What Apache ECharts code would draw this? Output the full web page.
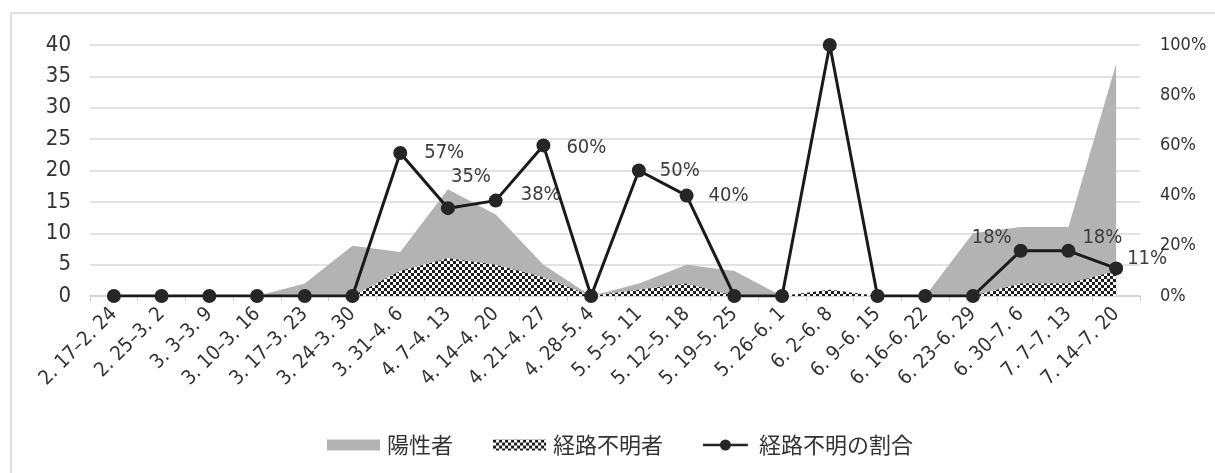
<!DOCTYPE html>
<html><head><meta charset="utf-8">
<script src="https://cdn.jsdelivr.net/npm/echarts@6/dist/echarts.min.js"></script>
<style>html,body{margin:0;padding:0;background:#fff}#c{width:1215px;height:473px}</style>
</head><body><div id="c"></div>
<script>
// ---- data ----
const categories = ['2. 17–2. 24','2. 25–3. 2','3. 3–3. 9','3. 10–3. 16','3. 17–3. 23','3. 24–3. 30','3. 31–4. 6','4. 7–4. 13','4. 14–4. 20','4. 21–4. 27','4. 28–5. 4','5. 5–5. 11','5. 12–5. 18','5. 19–5. 25','5. 26–6. 1','6. 2–6. 8','6. 9–6. 15','6. 16–6. 22','6. 23–6. 29','6. 30–7. 6','7. 7–7. 13','7. 14–7. 20'];
const positives    = [0,0,0,0,2,8,7,17,13,5,0,2,5,4,0,1,0,0,10,11,11,37];
const unknownCases = [0,0,0,0,0,0,4,6,5,3,0,1,2,0,0,1,0,0,0,2,2,4];
const unknownRatio = [0,0,0,0,0,0,57,35,38,60,0,50,40,0,0,100,0,0,0,18,18,11];
const leftTicks  = [0,5,10,15,20,25,30,35,40];
const rightTicks = [0,20,40,60,80,100];
const seriesNames = ['陽性者','経路不明者','経路不明の割合'];

// ---- styling ----
const narrow = "'Liberation Sans Narrow','DejaVu Sans Condensed','Roboto',sans-serif";
const cond = "'DejaVu Sans Condensed','Liberation Sans Narrow',sans-serif";
const cjk = "'Noto Sans CJK JP','Noto Sans',sans-serif";
const labelStyle = { // index -> [position, offset]
  6:['right',[12,0]], 7:['right',[-9,-31]], 8:['right',[13,-6]], 9:['right',[11,2]],
  11:['right',[9,0]], 12:['right',[10,0]], 19:['left',[3,-13]], 20:['right',[2,-13]], 21:['right',[-1,-10]]
};

const pc = document.createElement('canvas'); pc.width = 6; pc.height = 6;
const g = pc.getContext('2d');
g.fillStyle = '#ffffff'; g.fillRect(0,0,6,6);
g.fillStyle = '#1c1c1c'; g.fillRect(0,0,3,3); g.fillRect(3,3,3,3);
const checker = {image: pc, repeat: 'repeat'};

const ratioData = unknownRatio.map((v,i) => {
  const ls = labelStyle[i];
  return ls ? {value:v, label:{show:true, position:ls[0], offset:ls[1]}} : {value:v};
});

const lineIcon = 'path://M0,5h53v3h-53z M20,6.5a6.5,6.5 0 1,1 13,0a6.5,6.5 0 1,1 -13,0z';

const chart = echarts.init(document.getElementById('c'), null, {renderer:'canvas'});
chart.setOption({
  backgroundColor:'#fff',
  animation:false,
  graphic:[{type:'rect', shape:{x:11,y:13,width:1215,height:480}, style:{fill:'none', stroke:'#d6d6d6', lineWidth:1.5}, silent:true}],
  grid:{left:90, right:75, top:45, bottom:177, containLabel:false},
  legend:{
    left:322, top:429, itemWidth:53, itemHeight:11, itemGap:40,
    textStyle:{fontFamily:cjk, fontSize:22, color:'#333', padding:[0,0,0,2]},
    data:[
      {name:seriesNames[0], icon:'rect', itemStyle:{color:'#b3b3b3'}},
      {name:seriesNames[1], icon:'rect', itemStyle:{color:checker}},
      {name:seriesNames[2], icon:lineIcon, itemStyle:{color:'#262626'}}
    ]
  },
  xAxis:{
    type:'category', data:categories, boundaryGap:true,
    axisLine:{lineStyle:{color:'#cfcfcf', width:1.5}},
    axisTick:{show:true, length:5, lineStyle:{color:'#cfcfcf'}},
    axisLabel:{interval:0, rotate:45, margin:15, fontFamily:cond, fontSize:20, color:'#333'}
  },
  yAxis:[
    {type:'value', min:leftTicks[0], max:leftTicks[leftTicks.length-1], interval:leftTicks[1]-leftTicks[0],
     axisLine:{show:false}, axisTick:{show:false},
     splitLine:{lineStyle:{color:'#d9d9d9', width:1.5}},
     axisLabel:{margin:19, fontFamily:narrow, fontSize:22, color:'#333'}},
    {type:'value', min:rightTicks[0], max:rightTicks[rightTicks.length-1], interval:rightTicks[1]-rightTicks[0],
     position:'right', axisLine:{show:false}, axisTick:{show:false}, splitLine:{show:false},
     axisLabel:{margin:20, fontFamily:narrow, fontSize:18, color:'#333', formatter:'{value}%'}}
  ],
  series:[
    {name:seriesNames[0], type:'line', data:positives, symbol:'none', silent:true,
     lineStyle:{width:0}, itemStyle:{color:'#b3b3b3'}, areaStyle:{color:'#b3b3b3', opacity:1}, z:1},
    {name:seriesNames[1], type:'line', data:unknownCases, symbol:'none', silent:true,
     lineStyle:{width:0}, itemStyle:{color:'#333'}, areaStyle:{color:checker, opacity:1}, z:2},
    {name:seriesNames[2], type:'line', yAxisIndex:1, data:ratioData, symbol:'circle', symbolSize:14,
     lineStyle:{color:'#1a1a1a', width:3}, itemStyle:{color:'#262626'}, z:5,
     label:{show:false, formatter:'{c}%', fontFamily:narrow, fontSize:20, color:'#3c3c3c'}}
  ]
});
</script></body></html>
